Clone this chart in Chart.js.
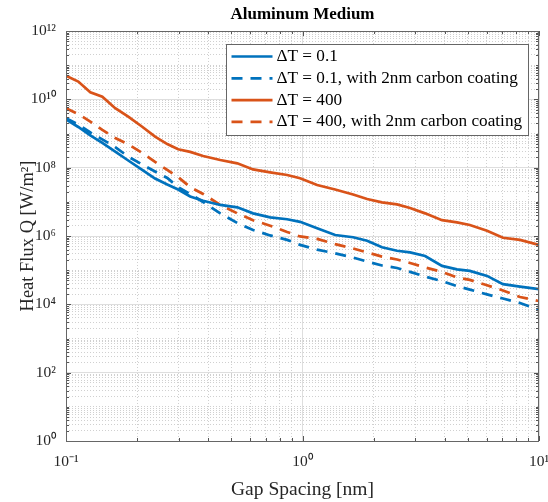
<!DOCTYPE html>
<html>
<head>
<meta charset="utf-8">
<script src="https://cdn.jsdelivr.net/npm/chart.js@4/dist/chart.umd.min.js"></script>
<style>
html,body{margin:0;padding:0;background:#fff;overflow:hidden}
canvas{display:block}
</style>
</head>
<body>
<canvas id="c" width="548" height="502" style="width:548px;height:502px"></canvas>
<script>
// ---- data ----
const gapSpacing = [0.1, 0.1127, 0.1267, 0.1424, 0.1615, 0.1833, 0.210, 0.238, 0.268, 0.298, 0.335, 0.380, 0.449, 0.530, 0.618, 0.730, 0.861, 0.977, 1.153, 1.374, 1.637, 1.876, 2.169, 2.51, 2.85, 3.30, 3.89, 4.50, 5.10, 6.03, 7.04, 8.31, 10];
const dT01 = [2.6e9, 1.55e9, 8.8e8, 5.3e8, 2.97e8, 1.62e8, 8.6e7, 4.8e7, 3.2e7, 2.3e7, 1.44e7, 1.08e7, 8.1e6, 6.9e6, 4.6e6, 3.5e6, 3.1e6, 2.6e6, 1.68e6, 1.07e6, 9.2e5, 7.3e5, 4.7e5, 3.7e5, 3.3e5, 2.6e5, 1.33e5, 1.06e5, 9.5e4, 6.8e4, 3.9e4, 3.3e4, 2.8e4];
const dT01Coated = [2.8e9, 1.84e9, 1.07e9, 6.7e8, 4.0e8, 2.1e8, 1.24e8, 7.7e7, 5.0e7, 2.7e7, 1.7e7, 9.9e6, 4.6e6, 2.4e6, 1.5e6, 1.04e6, 7.7e5, 5.5e5, 4.0e5, 3.1e5, 2.35e5, 1.79e5, 1.37e5, 1.16e5, 8.9e4, 6.5e4, 4.8e4, 3.4e4, 2.7e4, 1.95e4, 1.48e4, 1.1e4, 6.8e3];
const dT400 = [4.9e10, 3.3e10, 1.6e10, 1.19e10, 5.5e9, 3.1e9, 1.58e9, 8.1e8, 4.9e8, 3.45e8, 2.9e8, 2.2e8, 1.68e8, 1.34e8, 8.9e7, 7.3e7, 6.1e7, 4.9e7, 3.1e7, 2.3e7, 1.64e7, 1.21e7, 9.6e6, 8.4e6, 6.6e6, 4.6e6, 2.9e6, 2.5e6, 2.1e6, 1.43e6, 8.9e5, 7.7e5, 5.5e5];
const dT400Coated = [5.5e9, 3.7e9, 2.24e9, 1.27e9, 7.4e8, 4.8e8, 2.7e8, 1.47e8, 8.6e7, 5.3e7, 2.7e7, 1.7e7, 8.1e6, 4.6e6, 2.9e6, 2.0e6, 1.31e6, 9.7e5, 8.2e5, 5.8e5, 4.3e5, 3.3e5, 2.5e5, 2.06e5, 1.62e5, 1.2e5, 8.9e4, 6.1e4, 5.2e4, 3.6e4, 2.55e4, 1.64e4, 1.25e4];
const seriesLabels = ['\u0394T = 0.1', '\u0394T = 0.1, with 2nm carbon coating', '\u0394T = 400', '\u0394T = 400, with 2nm carbon coating'];
const xTickExponents = [-1, 0, 1];
const yTickExponents = [0, 2, 4, 6, 8, 10, 12];
const titleText = 'Aluminum Medium';
const xTitle = 'Gap Spacing [nm]';
const yTitle = 'Heat Flux Q [W/m\u00B2]';

// ---- styling ----
const SERIF = "'Liberation Serif', 'Times New Roman', serif";
const BLUE = '#0072BD';
const ORANGE = '#D95319';
const DASH = [11, 8];

const SUP = {'0':'\u2070','1':'\u00B9','2':'\u00B2','3':'\u00B3','4':'\u2074','5':'\u2075','6':'\u2076','7':'\u2077','8':'\u2078','9':'\u2079','-':'\u207B'};
const sup = n => String(n).split('').map(c => SUP[c]).join('');
const expOf = v => Math.log10(v);
const isDecade = v => Math.abs(expOf(v) - Math.round(expOf(v))) < 1e-6;
const isMajorIn = (v, list) => isDecade(v) && list.includes(Math.round(expOf(v)));

function logTicks(minExp, maxExp) {
  const t = [];
  for (let e = minExp; e < maxExp; e++) {
    for (let m = 1; m < 10; m++) t.push({value: m * Math.pow(10, e)});
  }
  t.push({value: Math.pow(10, maxExp)});
  return t;
}

const pts = ys => gapSpacing.map((x, i) => ({x: x, y: ys[i]}));

const datasets = [
  {label: seriesLabels[0], data: pts(dT01), borderColor: BLUE, borderDash: []},
  {label: seriesLabels[1], data: pts(dT01Coated), borderColor: BLUE, borderDash: DASH},
  {label: seriesLabels[2], data: pts(dT400), borderColor: ORANGE, borderDash: []},
  {label: seriesLabels[3], data: pts(dT400Coated), borderColor: ORANGE, borderDash: DASH}
].map(d => Object.assign(d, {borderWidth: 2.7, pointRadius: 0, tension: 0, fill: false}));

const frameAndLegend = {
  id: 'frameAndLegend',
  afterDatasetsDraw(chart) {
    const {ctx, chartArea: a, scales: {x, y}} = chart;
    ctx.save();
    // inward tick marks on all four sides
    ctx.strokeStyle = '#555';
    ctx.lineWidth = 1;
    ctx.setLineDash([]);
    ctx.beginPath();
    x.ticks.forEach(t => {
      const px = Math.round(x.getPixelForValue(t.value)) + 0.5;
      const len = isMajorIn(t.value, xTickExponents) ? 5 : 3;
      ctx.moveTo(px, a.bottom); ctx.lineTo(px, a.bottom - len);
      ctx.moveTo(px, a.top); ctx.lineTo(px, a.top + len);
    });
    y.ticks.forEach(t => {
      const py = Math.round(y.getPixelForValue(t.value)) + 0.5;
      const len = isMajorIn(t.value, yTickExponents) ? 5 : 3;
      ctx.moveTo(a.left, py); ctx.lineTo(a.left + len, py);
      ctx.moveTo(a.right, py); ctx.lineTo(a.right - len, py);
    });
    ctx.stroke();
    // axes box
    ctx.strokeStyle = '#666';
    ctx.strokeRect(Math.round(a.left) + 0.5, Math.round(a.top) + 0.5, Math.round(a.right - a.left) - 1, Math.round(a.bottom - a.top));

    // legend
    ctx.font = '17.2px ' + SERIF;
    const left = Math.round(a.left) + 160.5;
    const top = Math.round(a.top) + 13.5;
    const rowH = 21.8;
    const firstY = top + 12;
    const s0 = left + 5, s1 = left + 46, tx = left + 50;
    const maxW = Math.max(...seriesLabels.map(s => ctx.measureText(s).width));
    const w = Math.round(tx + maxW + 6 - left);
    const h = 91;
    ctx.fillStyle = '#fff';
    ctx.fillRect(left, top, w, h);
    ctx.strokeStyle = '#666';
    ctx.lineWidth = 1;
    ctx.strokeRect(left, top, w, h);
    datasets.forEach((d, i) => {
      const yy = firstY + i * rowH;
      ctx.strokeStyle = d.borderColor;
      ctx.lineWidth = d.borderWidth;
      ctx.setLineDash(d.borderDash);
      ctx.beginPath();
      ctx.moveTo(s0, yy); ctx.lineTo(s1, yy);
      ctx.stroke();
      ctx.setLineDash([]);
      ctx.fillStyle = '#000';
      ctx.textBaseline = 'middle';
      ctx.textAlign = 'left';
      ctx.fillText(seriesLabels[i], tx, yy);
    });
    ctx.restore();
  }
};

new Chart(document.getElementById('c'), {
  type: 'line',
  data: {datasets},
  options: {
    responsive: false,
    animation: false,
    layout: {padding: {left: 0, right: 9, top: 0, bottom: 0}},
    plugins: {
      legend: {display: false},
      tooltip: {enabled: false},
      title: {
        display: true, text: titleText, fullSize: false, color: '#000',
        font: {family: SERIF, size: 17, weight: 'bold'},
        padding: {top: 4, bottom: 6.6}
      }
    },
    scales: {
      x: {
        type: 'logarithmic', min: 0.1, max: 10,
        afterBuildTicks: s => { s.ticks = logTicks(-1, 1); },
        afterFit: s => { s.height = 61; s.paddingRight = 0; },
        ticks: {
          autoSkip: false, maxRotation: 0, minRotation: 0, padding: 12,
          color: '#262626', font: {family: SERIF, size: 15.5},
          callback: v => isMajorIn(v, xTickExponents) ? '10' + sup(Math.round(expOf(v))) : ''
        },
        grid: {
          drawTicks: false, lineWidth: 1,
          color: c => (c.tick && isMajorIn(c.tick.value, xTickExponents)) ? '#dedede' : '#d0d0d0'
        },
        border: {display: false, dash: c => (c.tick && isMajorIn(c.tick.value, xTickExponents)) ? [] : [1, 2]},
        title: {display: true, text: xTitle, color: '#262626', font: {family: SERIF, size: 19.5}, padding: {top: 0, bottom: 0}}
      },
      y: {
        type: 'logarithmic', min: 1, max: 1e12,
        afterBuildTicks: s => { s.ticks = logTicks(0, 12); },
        afterFit: s => { s.width = 66; },
        ticks: {
          autoSkip: false, padding: 10,
          color: '#262626', font: {family: SERIF, size: 15.5},
          callback: v => isMajorIn(v, yTickExponents) ? '10' + sup(Math.round(expOf(v))) : ''
        },
        grid: {
          drawTicks: false, lineWidth: 1,
          color: c => (c.tick && isMajorIn(c.tick.value, yTickExponents)) ? '#dedede' : '#d0d0d0'
        },
        border: {display: false, dash: c => (c.tick && isMajorIn(c.tick.value, yTickExponents)) ? [] : [1, 2]},
        title: {display: true, text: yTitle, color: '#262626', font: {family: SERIF, size: 18.5}, padding: {top: 17, bottom: 0}}
      }
    }
  },
  plugins: [frameAndLegend]
});
</script>
</body>
</html>
